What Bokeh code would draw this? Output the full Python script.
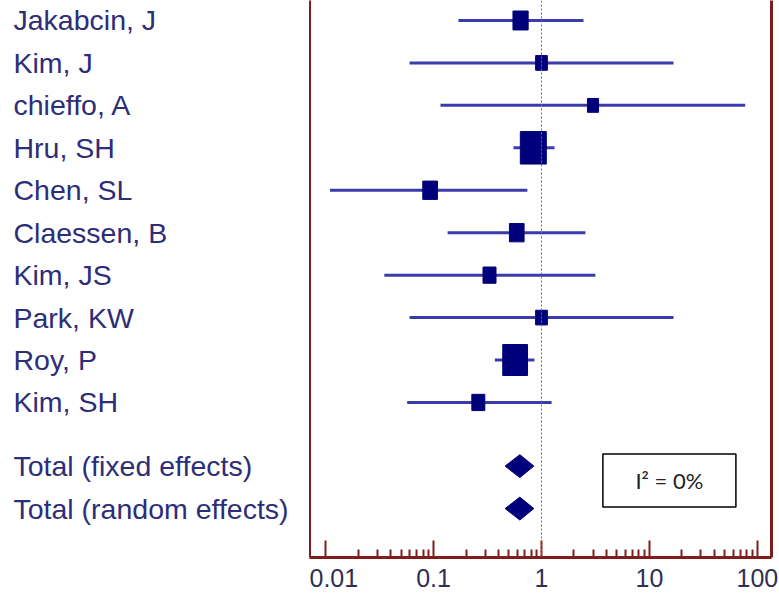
from bokeh.plotting import figure
from bokeh.layouts import row
from bokeh.models import Range1d, Span, LinearAxis, FixedTicker, ColumnDataSource
from bokeh.core.properties import value
from bokeh.embed import file_html
from bokeh.resources import INLINE
import math

# ---- data ----
studies = ["Jakabcin, J", "Kim, J", "chieffo, A", "Hru, SH", "Chen, SL",
           "Claessen, B", "Kim, JS", "Park, KW", "Roy, P", "Kim, SH"]
est = [0.64, 1.0, 3.0, 0.84, 0.093, 0.59, 0.33, 1.0, 0.57, 0.26]
lo = [0.17, 0.06, 0.116, 0.55, 0.011, 0.135, 0.035, 0.06, 0.37, 0.057]
hi = [2.45, 16.7, 77.0, 1.32, 0.74, 2.55, 3.16, 16.7, 0.86, 1.24]
weight = [7.5, 4.5, 4.0, 22.0, 7.0, 7.0, 5.5, 4.5, 20.0, 5.5]

totals = ["Total (fixed effects)", "Total (random effects)"]
tot_est = [0.63, 0.63]
tot_lo = [0.46, 0.46]
tot_hi = [0.85, 0.85]

major_ticks = [0.01, 0.1, 1, 10, 100]
heterogeneity = "I\u00b2 = 0%"

# ---- layout helpers ----
n = len(studies)
study_y = list(range(n))
total_y = [n + 0.5, n + 1.5]
all_labels = studies + totals
all_y = study_y + total_y

FONT = "Liberation Sans"
LABEL_COLOR = "#2d2d78"
FRAME_RED = "#7f1d1d"
LINE_BLUE = "#3b3bab"
MARK_BLUE = "#00007a"

H = 596
BOTTOM = 39
y_range = Range1d(start=12.653, end=-0.471)

# ---- left label panel ----
left = figure(width=309, height=H, x_range=Range1d(0, 1), y_range=y_range,
              output_backend="svg", toolbar_location=None,
              min_border_left=0, min_border_right=0, min_border_top=0,
              min_border_bottom=BOTTOM)
left.axis.visible = False
left.grid.visible = False
left.outline_line_color = None
left.text(x=[0] * len(all_labels), y=all_y, text=all_labels, x_offset=13,
          text_font=value(FONT), text_font_size="28.5px", text_color=LABEL_COLOR,
          text_baseline="middle", text_align="left")

# ---- forest plot ----
p = figure(width=469, height=H, x_axis_type="log",
           x_range=Range1d(0.0071, 135), y_range=y_range,
           output_backend="svg", toolbar_location=None,
           min_border_left=0, min_border_right=7, min_border_top=0,
           min_border_bottom=BOTTOM)
p.grid.visible = False
p.outline_line_color = None

# bottom axis
xa = p.xaxis[0]
minor = [m * t for t in major_ticks[:-1] for m in range(2, 10)]
xa.ticker = FixedTicker(ticks=major_ticks, minor_ticks=minor)
xa.major_label_overrides = {0.01: "0.01", 0.1: "0.1", 1: "1", 10: "10", 100: "100"}
xa.axis_line_color = FRAME_RED
xa.axis_line_width = 3
xa.major_tick_in = 17
xa.major_tick_out = 0
xa.minor_tick_in = 8
xa.minor_tick_out = 0
xa.major_tick_line_color = FRAME_RED
xa.major_tick_line_width = 2
xa.minor_tick_line_color = FRAME_RED
xa.minor_tick_line_width = 2
xa.major_label_text_font = FONT
xa.major_label_text_font_size = "25px"
xa.major_label_text_color = "#2f2f55"
xa.major_label_standoff = 11

# left and right borders as axes
ya = p.yaxis[0]
ra = LinearAxis()
p.add_layout(ra, "right")
for ax in (ya, ra):
    ax.ticker = FixedTicker(ticks=[])
    ax.axis_line_color = FRAME_RED
    ax.axis_line_width = 3
    ax.major_tick_line_color = None
    ax.minor_tick_line_color = None
    ax.major_label_text_font_size = "0px"
    ax.major_label_standoff = 0

# reference line at 1
p.add_layout(Span(location=1, dimension="height", line_color="#6a6ab0",
                  line_dash="2 2", line_width=1))

# confidence intervals
src = ColumnDataSource(dict(y=study_y, est=est, lo=lo, hi=hi,
                            w=[5.54 * math.sqrt(v) for v in weight],
                            h=[5.54 * 1.25 * math.sqrt(v) for v in weight]))
p.segment(x0="lo", x1="hi", y0="y", y1="y", source=src,
          line_color=LINE_BLUE, line_width=3)
p.rect(x="est", y="y", width="w", height="h", width_units="screen",
       height_units="screen", source=src, fill_color=MARK_BLUE,
       line_color=MARK_BLUE)

# pooled diamonds
dx = [[l, e, h, e] for l, e, h in zip(tot_lo, tot_est, tot_hi)]
dy = [[y, y - 0.27, y, y + 0.27] for y in total_y]
p.patches(xs=dx, ys=dy, fill_color=MARK_BLUE, line_color=MARK_BLUE)

# heterogeneity box
p.rect(x=[15.3], y=[10.84], width=133, height=53, width_units="screen",
       height_units="screen", fill_color="white", line_color="black",
       line_width=1.5)
p.text(x=[15.3], y=[10.84], text=[heterogeneity], text_font=value("Lato"),
       text_font_size="22px", text_color="#222222", text_align="center",
       text_baseline="middle")

layout = row(left, p)
open("out.html", "w").write(file_html(layout, INLINE))
